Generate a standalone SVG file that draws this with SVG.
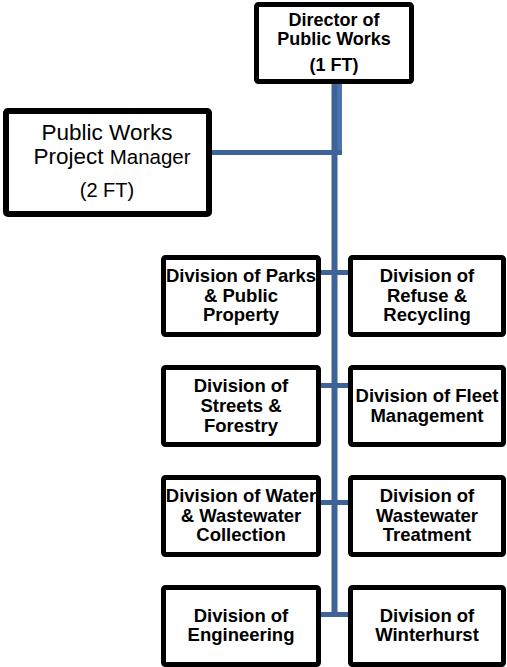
<svg xmlns="http://www.w3.org/2000/svg" width="507" height="667" viewBox="0 0 507 667">
<style>
.box{fill:#fff;stroke:#000;stroke-width:5;}
.t{font-family:"Liberation Sans",Arial,sans-serif;font-weight:bold;font-size:18.5px;fill:#000;text-anchor:middle;}
.r{font-family:"Liberation Sans",Arial,sans-serif;font-size:22.5px;fill:#000;text-anchor:middle;}
.c{stroke:#3D6398;fill:none;}
</style>
<g id="connectors">
<line class="c" x1="339.5" y1="84" x2="339.5" y2="155" stroke-width="5" style="stroke:#4A73AC"/>
<line class="c" x1="334.5" y1="84" x2="334.5" y2="617" stroke-width="6"/>
<line class="c" x1="211" y1="152.5" x2="342" y2="152.5" stroke-width="5"/>
<line class="c" x1="320" y1="272.5" x2="349" y2="272.5" stroke-width="5"/>
<line class="c" x1="320" y1="385.5" x2="349" y2="385.5" stroke-width="5"/>
<line class="c" x1="320" y1="502.5" x2="349" y2="502.5" stroke-width="5"/>
<line class="c" x1="320" y1="614.5" x2="349" y2="614.5" stroke-width="5"/>
</g>
<g id="director">
<rect class="box" x="256.5" y="4.5" width="155" height="77" rx="2"/>
<text class="t" x="334" y="26" style="font-size:18px">Director of</text>
<text class="t" x="334" y="45" style="font-size:18px">Public Works</text>
<text class="t" x="334" y="71" style="font-size:18px">(1 FT)</text>
</g>
<g id="project-manager">
<rect class="box" x="6" y="111" width="203" height="103" rx="2" style="stroke-width:6"/>
<text class="r" x="107" y="140">Public Works</text>
<text class="r" x="112" y="164">Project <tspan font-size="20.5">Manager</tspan></text>
<text class="r" x="107" y="197" style="font-size:20px">(2 FT)</text>
</g>
<g id="parks">
<rect class="box" x="163.5" y="257.5" width="155" height="77" rx="2"/>
<text class="t" x="241" y="281.5">Division of Parks</text>
<text class="t" x="241" y="301.5">&amp; Public</text>
<text class="t" x="241" y="321">Property</text>
</g>
<g id="refuse">
<rect class="box" x="350.5" y="257.5" width="153" height="77" rx="2"/>
<text class="t" x="427" y="281.5">Division of</text>
<text class="t" x="427" y="301.5">Refuse &amp;</text>
<text class="t" x="427" y="321">Recycling</text>
</g>
<g id="streets">
<rect class="box" x="163.5" y="367.5" width="155" height="77" rx="2"/>
<text class="t" x="241" y="391.5">Division of</text>
<text class="t" x="241" y="411.5">Streets &amp;</text>
<text class="t" x="241" y="431.5">Forestry</text>
</g>
<g id="fleet">
<rect class="box" x="350.5" y="367.5" width="153" height="77" rx="2"/>
<text class="t" x="427" y="401.5">Division of Fleet</text>
<text class="t" x="427" y="421.5">Management</text>
</g>
<g id="water">
<rect class="box" x="163.5" y="477.5" width="155" height="77" rx="2"/>
<text class="t" x="241" y="501.5">Division of Water</text>
<text class="t" x="241" y="521.5">&amp; Wastewater</text>
<text class="t" x="241" y="540.5">Collection</text>
</g>
<g id="wastewater">
<rect class="box" x="350.5" y="477.5" width="153" height="77" rx="2"/>
<text class="t" x="427" y="501.5">Division of</text>
<text class="t" x="427" y="521.5">Wastewater</text>
<text class="t" x="427" y="540.5">Treatment</text>
</g>
<g id="engineering">
<rect class="box" x="163.5" y="587.5" width="155" height="77" rx="2"/>
<text class="t" x="241" y="621.5">Division of</text>
<text class="t" x="241" y="640.5">Engineering</text>
</g>
<g id="winterhurst">
<rect class="box" x="350.5" y="587.5" width="153" height="77" rx="2"/>
<text class="t" x="427" y="621.5">Division of</text>
<text class="t" x="427" y="640.5">Winterhurst</text>
</g>
</svg>
